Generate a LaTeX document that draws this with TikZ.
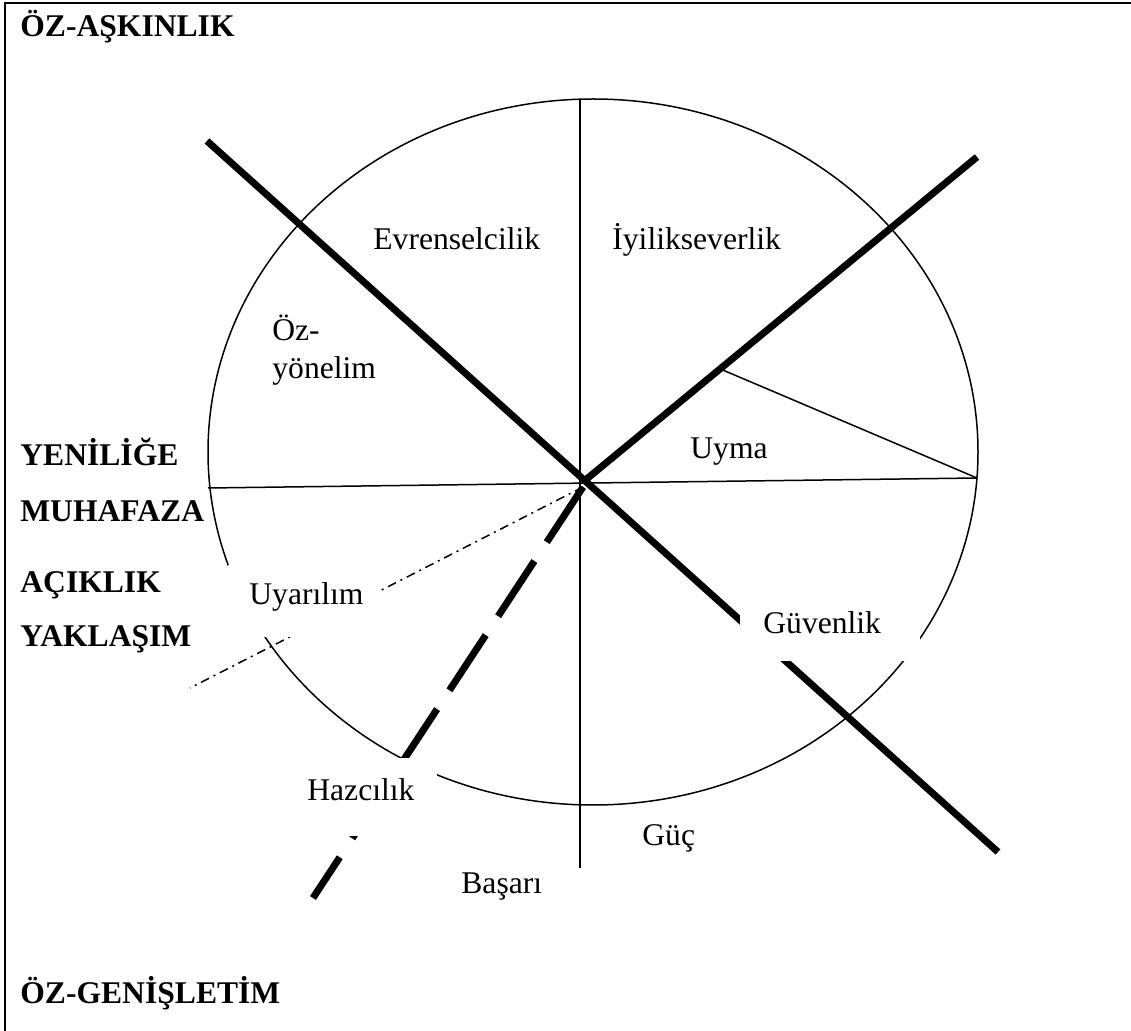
\documentclass[tikz,border=0pt]{standalone}
\usepackage{fontspec}
\setmainfont{Liberation Serif}
\usetikzlibrary{calc}

\begin{document}
\begin{tikzpicture}[x=0.5pt, y=-0.5pt,
    thinline/.style={line width=0.75pt},
    boldline/.style={line width=3.5pt},
    lbl/.style={anchor=base west, inner sep=0pt, font=\fontsize{15.8}{19}\selectfont},
    head/.style={lbl, font=\fontsize{15.8}{19}\selectfont\bfseries}]

        \useasboundingbox (0,0) rectangle (1131,1031);

        % Frame
        \draw[line width=1pt] (1131,3) -- (5,3) -- (5,1031);

        % Key points
        \coordinate (o) at (593,452);
        \coordinate (c) at (583,482);
        \coordinate (cd) at (583,487);
        \coordinate (nw) at (207,141);
        \coordinate (se) at (998,852);
        \coordinate (ne) at (977,157);
        \coordinate (sw) at (313,898);
        \coordinate (top) at (580,99);
        \coordinate (bot) at (580,868);
        \coordinate (west) at (208,488);
        \coordinate (east) at (977,478);
        \coordinate (dd) at (190,688);

        % Oval
        \draw[thinline] (o) ellipse [x radius=385, y radius=353];

        % Thin dividers
        \draw[thinline] (top) -- (bot);
        \draw[thinline] (west) -- (east);
        \draw[thinline] ($(c)!0.348!(ne)$) -- (east);
        \draw[thinline, dash pattern=on 4.5pt off 2.5pt on 1pt off 2.5pt] (cd) -- (dd);

        % Thick axes
        \draw[boldline] (nw) -- (se);
        \draw[boldline] (c) -- (ne);
        \draw[boldline, dash pattern=on 33pt off 11.3pt] (cd) -- (sw);

        % White label boxes
        \fill[white] (228,565) rectangle (380,637);
        \fill[white] (740,600) rectangle (920,661);
        \fill[white] (295,758) rectangle (437,836);

        % Value labels
        \node[lbl] (evr) at (373,250) {Evrenselcilik};
        \node[lbl] (iyi) at (612,250) {İyilikseverlik};
        \node[lbl] (oz1) at (272,341) {Öz-};
        \node[lbl] (oz2) at (272,379) {yönelim};
        \node[lbl] (uym) at (690,459) {Uyma};
        \node[lbl] (uya) at (249,605) {Uyarılım};
        \node[lbl] (guv) at (763,634) {Güvenlik};
        \node[lbl] (haz) at (307,801) {Hazcılık};
        \node[lbl] (guc) at (642,846) {Güç};
        \node[lbl] (bas) at (461,894) {Başarı};

        % Dimension labels
        \node[head] (ask) at (20,37) {ÖZ-AŞKINLIK};
        \node[head] (yen) at (20,466) {YENİLİĞE};
        \node[head] (muh) at (20,522) {MUHAFAZA};
        \node[head] (aci) at (20,593) {AÇIKLIK};
        \node[head] (yak) at (20,647) {YAKLAŞIM};
        \node[head] (gen) at (20,1003) {ÖZ-GENİŞLETİM};

    \end{tikzpicture}
\end{document}
